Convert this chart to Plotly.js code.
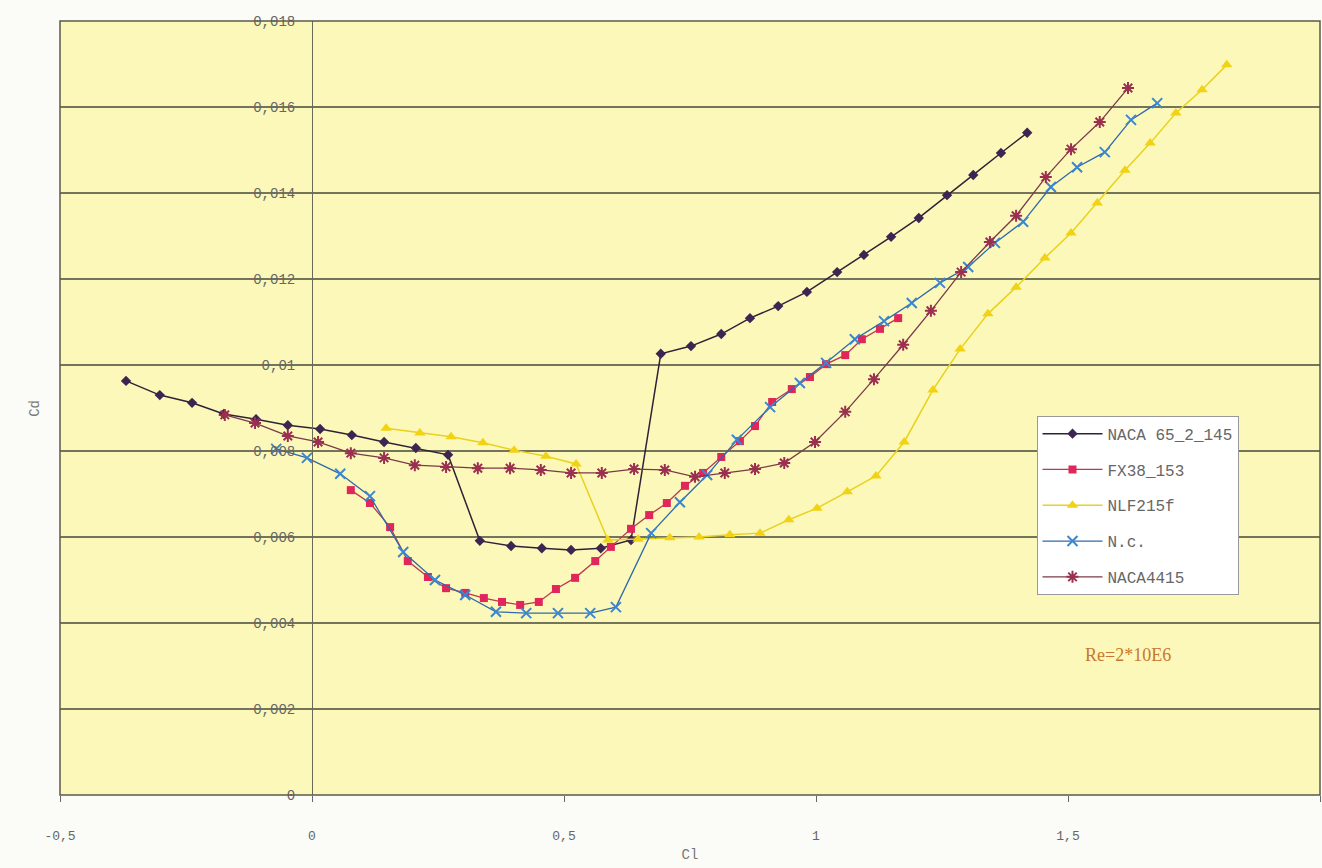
<!DOCTYPE html>
<html>
<head>
<meta charset="utf-8">
<script src="https://cdn.plot.ly/plotly-3.0.1.min.js"></script>
<style>html,body{margin:0;padding:0;background:#fbfbf7;}#chart{width:1322px;height:868px;}</style>
</head>
<body>
<div id="chart"></div>
<script>
// Series names
const seriesNames = ["NACA 65_2_145", "FX38_153", "NLF215f", "N.c.", "NACA4415"];

// NACA 65_2_145
const clNaca65 = [-0.369,-0.302,-0.238,-0.175,-0.111,-0.048,0.016,0.079,0.143,0.206,0.270,0.333,0.395,0.456,0.514,0.573,0.633,0.692,0.752,0.812,0.869,0.925,0.982,1.042,1.095,1.149,1.204,1.260,1.312,1.367,1.419];
const cdNaca65 = [0.00963,0.00930,0.00912,0.00886,0.00874,0.00860,0.00851,0.00837,0.00821,0.00807,0.00791,0.00591,0.00579,0.00574,0.00570,0.00574,0.00593,0.01026,0.01044,0.01072,0.01109,0.01137,0.01170,0.01216,0.01256,0.01298,0.01342,0.01395,0.01442,0.01493,0.01540];

// FX38_153
const clFx38 = [0.077,0.115,0.155,0.190,0.230,0.266,0.304,0.341,0.377,0.413,0.450,0.484,0.522,0.562,0.593,0.633,0.669,0.704,0.740,0.776,0.812,0.849,0.879,0.913,0.952,0.988,1.020,1.058,1.091,1.127,1.163];
const cdFx38 = [0.00709,0.00679,0.00623,0.00544,0.00507,0.00481,0.00470,0.00458,0.00449,0.00442,0.00449,0.00479,0.00505,0.00544,0.00577,0.00619,0.00651,0.00679,0.00719,0.00749,0.00786,0.00823,0.00858,0.00914,0.00944,0.00972,0.01002,0.01023,0.01060,0.01084,0.01109];

// NLF215f
const clNlf = [0.147,0.214,0.276,0.339,0.401,0.464,0.524,0.587,0.647,0.710,0.768,0.829,0.889,0.946,1.002,1.062,1.119,1.175,1.232,1.286,1.341,1.397,1.454,1.506,1.558,1.613,1.663,1.714,1.766,1.815];
const cdNlf = [0.00853,0.00842,0.00833,0.00819,0.00802,0.00788,0.00770,0.00593,0.00595,0.00598,0.00600,0.00605,0.00609,0.00640,0.00667,0.00705,0.00742,0.00821,0.00942,0.01037,0.01119,0.01181,0.01249,0.01307,0.01377,0.01453,0.01516,0.01586,0.01640,0.01698];

// N.c.
const clNc = [-0.071,-0.010,0.056,0.115,0.181,0.244,0.304,0.365,0.425,0.488,0.552,0.603,0.673,0.730,0.784,0.843,0.909,0.968,1.020,1.077,1.135,1.190,1.246,1.302,1.355,1.411,1.466,1.518,1.573,1.625,1.677];
const cdNc = [0.00805,0.00784,0.00747,0.00695,0.00565,0.00500,0.00465,0.00426,0.00423,0.00423,0.00423,0.00437,0.00609,0.00681,0.00744,0.00826,0.00902,0.00958,0.01005,0.01060,0.01102,0.01144,0.01191,0.01228,0.01284,0.01333,0.01414,0.01460,0.01495,0.01570,0.01609];

// NACA4415
const clNaca4415 = [-0.173,-0.113,-0.048,0.012,0.077,0.143,0.204,0.266,0.329,0.393,0.454,0.514,0.575,0.639,0.700,0.760,0.819,0.879,0.937,0.998,1.058,1.115,1.173,1.228,1.288,1.345,1.397,1.456,1.506,1.563,1.619];
const cdNaca4415 = [0.00884,0.00865,0.00835,0.00821,0.00795,0.00784,0.00767,0.00763,0.00760,0.00760,0.00756,0.00749,0.00749,0.00758,0.00756,0.00740,0.00749,0.00758,0.00772,0.00821,0.00891,0.00967,0.01047,0.01126,0.01216,0.01286,0.01347,0.01437,0.01502,0.01565,0.01644];

// Axis ticks
const xTickVals = [-0.5, 0, 0.5, 1, 1.5, 2];
const xTickText = ["-0,5", "0", "0,5", "1", "1,5", "2"];
const yTickVals = [0, 0.002, 0.004, 0.006, 0.008, 0.01, 0.012, 0.014, 0.016, 0.018];
const yTickText = ["0", "0,002", "0,004", "0,006", "0,008", "0,01", "0,012", "0,014", "0,016", "0,018"];
const reLabel = "Re=2*10E6";

const mono = "Liberation Mono, DejaVu Sans Mono, monospace";

const traces = [
  {x: clNaca65, y: cdNaca65, name: seriesNames[0], legendgroup: "a", mode: "lines+markers",
   line: {color: "#2e2238", width: 1.5}, marker: {symbol: "diamond", size: 8, color: "#3c2550"}},
  {x: clFx38, y: cdFx38, name: seriesNames[1], legendgroup: "b", mode: "lines+markers",
   line: {color: "#b83a50", width: 1.3}, marker: {symbol: "square", size: 8, color: "#e0265a"}},
  {x: clNlf, y: cdNlf, name: seriesNames[2], legendgroup: "c", mode: "lines+markers",
   line: {color: "#e8d21c", width: 1.5}, marker: {symbol: "triangle-up", size: 10, color: "#f2d214"}},
  {x: clNc, y: cdNc, name: seriesNames[3], legendgroup: "d", mode: "lines+markers",
   line: {color: "#2f6aa8", width: 1.3}, marker: {symbol: "x-thin", size: 10, color: "#3a86d0", line: {width: 2, color: "#3a86d0"}}},
  {x: clNaca4415, y: cdNaca4415, name: seriesNames[4], legendgroup: "e", mode: "lines+markers",
   line: {color: "#7a3a48", width: 1.3}, marker: {symbol: "asterisk", size: 10, color: "#9a3050", line: {width: 2, color: "#9a3050"}}}
];

const layout = {
  width: 1322, height: 868,
  margin: {l: 60, r: 2, t: 21, b: 73},
  paper_bgcolor: "#fbfbf7",
  plot_bgcolor: "#fcf8b9",
  showlegend: true,
  font: {family: mono, color: "#555"},
  xaxis: {
    range: [-0.5, 2], tickvals: xTickVals, ticktext: xTickText,
    showgrid: false, zeroline: false, showline: false,
    ticks: "outside", ticklen: 6, tickcolor: "#666", tickwidth: 1,
    ticklabelstandoff: 22,
    tickfont: {family: mono, size: 13, color: "#666"},
    title: {text: "Cl", standoff: 6, font: {family: mono, size: 14, color: "#777"}}
  },
  yaxis: {
    range: [0, 0.018], tickvals: yTickVals, ticktext: yTickText,
    anchor: "free", position: 0.2,
    showgrid: true, gridcolor: "#74745a", gridwidth: 1.2,
    zeroline: false, showline: true, linecolor: "#6a6a58", linewidth: 1,
    ticks: "", ticklabelstandoff: 14,
    tickfont: {family: mono, size: 14, color: "#666"}
  },
  legend: {
    x: 0.775, y: 0.49, xanchor: "left", yanchor: "top",
    bgcolor: "#ffffff", bordercolor: "#999", borderwidth: 1,
    font: {family: mono, size: 16, color: "#666"},
    tracegroupgap: 12, itemwidth: 60
  },
  shapes: [
    {type: "rect", xref: "paper", yref: "paper", x0: 0, x1: 1, y0: 0, y1: 1,
     line: {color: "#5a5a4a", width: 1.5}, fillcolor: "rgba(0,0,0,0)", layer: "above"}
  ],
  annotations: [
    {x: 1.62, y: 0.00326, xref: "x", yref: "y", text: reLabel, showarrow: false,
     font: {family: "Liberation Serif, serif", size: 18, color: "#c8782e"}},
    {x: -0.02, y: 0.5, xref: "paper", yref: "paper", text: "Cd", textangle: -90, showarrow: false,
     xanchor: "center", font: {family: mono, size: 14, color: "#777"}}
  ]
};

Plotly.newPlot("chart", traces, layout, {displayModeBar: false, staticPlot: true});
</script>
</body>
</html>
